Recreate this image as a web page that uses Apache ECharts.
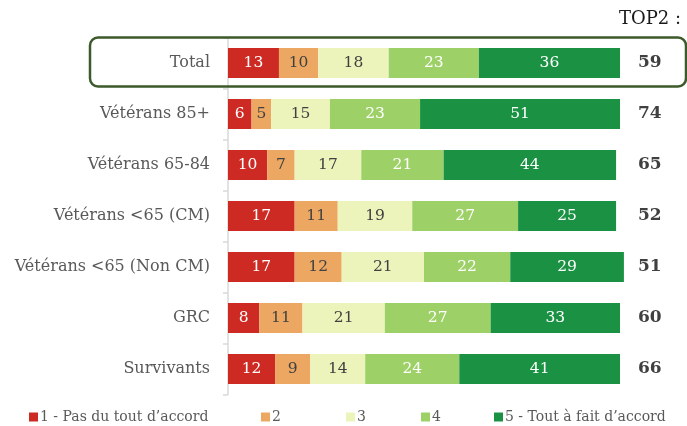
<!DOCTYPE html>
<html>
<head>
<meta charset="utf-8">
<script src="https://cdn.jsdelivr.net/npm/echarts@6/dist/echarts.min.js"></script>
<style>
  html, body { margin: 0; padding: 0; background: #ffffff; }
  #chart { width: 687px; height: 426px; }
</style>
</head>
<body>
<div id="chart"></div>
<script>
// Groups, top to bottom
const categories = ['Total', 'Vétérans 85+', 'Vétérans 65-84', 'Vétérans <65 (CM)', 'Vétérans <65 (Non CM)', 'GRC', 'Survivants'];

// Share of answers per level of agreement (%)
const pasDuTout = [13, 6, 10, 17, 17, 8, 12];
const niveau2   = [10, 5, 7, 11, 12, 11, 9];
const niveau3   = [18, 15, 17, 19, 21, 21, 14];
const niveau4   = [23, 23, 21, 27, 22, 27, 24];
const toutAFait = [36, 51, 44, 25, 29, 33, 41];

// TOP2 score (levels 4 + 5)
const top2 = [59, 74, 65, 52, 51, 60, 66];

const seriesNames = ['1 - Pas du tout d’accord', '2', '3', '4', '5 - Tout à fait d’accord'];
const seriesData = [pasDuTout, niveau2, niveau3, niveau4, toutAFait];
const colors = ['#cd2a24', '#eca862', '#edf4bb', '#9dd167', '#1b9243'];
const labelColors = ['#ffffff', '#404040', '#404040', '#ffffff', '#ffffff'];

const FONT = '"DejaVu Serif", Georgia, serif';
const legendLeft = [24, 256, 341, 416, 489];

const chart = echarts.init(document.getElementById('chart'), null, { renderer: 'canvas' });

const option = {
  animation: false,
  textStyle: { fontFamily: FONT },
  grid: { left: 228, right: 67, top: 37.5, height: 357, containLabel: false },
  xAxis: { type: 'value', min: 0, max: 100, show: false },
  yAxis: [
    {
      type: 'category',
      data: categories,
      inverse: true,
      position: 'left',
      axisLine: { show: true, lineStyle: { color: '#d9d9d9', width: 1.5 } },
      axisTick: { show: true, length: 5, lineStyle: { color: '#d9d9d9', width: 1.5 } },
      axisLabel: { color: '#595959', fontSize: 16, fontFamily: FONT, margin: 18 },
      splitLine: { show: false }
    },
    {
      type: 'category',
      data: top2.map(String),
      inverse: true,
      position: 'right',
      axisLine: { show: false },
      axisTick: { show: false },
      axisLabel: { color: '#404040', fontSize: 17, fontWeight: 'bold', fontFamily: FONT, margin: 18 },
      splitLine: { show: false }
    }
  ],
  title: {
    text: 'TOP2 :',
    right: 1,
    top: 5,
    textStyle: { color: '#1a1a1a', fontSize: 18, fontWeight: 'normal', fontFamily: FONT }
  },
  legend: seriesNames.map((name, i) => ({
    data: [name],
    left: legendLeft[i],
    top: 405,
    itemWidth: 9,
    itemHeight: 9,
    icon: 'rect',
    selectedMode: false,
    textStyle: { color: '#595959', fontSize: 14, fontFamily: FONT, padding: [3, 0, 0, -3] }
  })),
  series: seriesNames.map((name, i) => ({
    name: name,
    type: 'bar',
    stack: 'total',
    yAxisIndex: 0,
    barWidth: 30,
    clip: false,
    data: seriesData[i],
    itemStyle: { color: colors[i] },
    label: {
      show: true,
      position: 'inside',
      color: labelColors[i],
      fontSize: 15.5,
      fontFamily: FONT
    }
  }))
};

chart.setOption(option);

// Frame around the overall row
const cy = chart.convertToPixel({ yAxisIndex: 0 }, categories[0]);
chart.setOption({
  graphic: [{
    type: 'rect',
    shape: { x: 90, y: cy - 25.5, width: 596, height: 49, r: 8 },
    style: { fill: 'none', stroke: '#3d5a2a', lineWidth: 2.5 },
    z: 10
  }]
});
</script>
</body>
</html>
